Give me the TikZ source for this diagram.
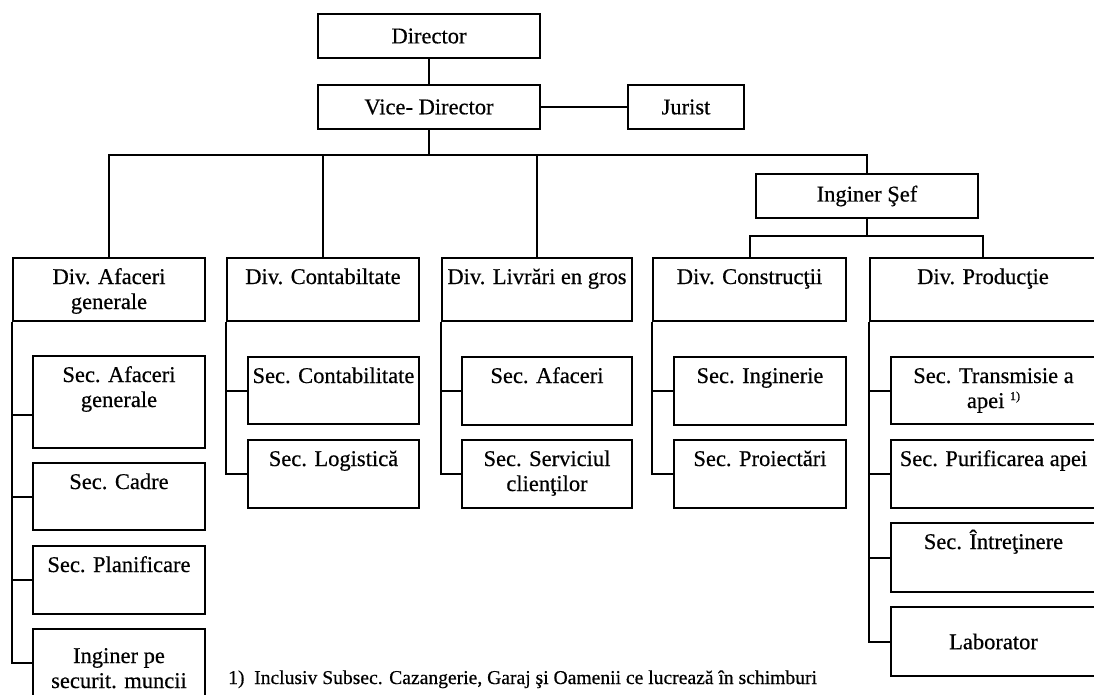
\documentclass[tikz,border=0pt]{standalone}
\usepackage{fontspec}
\setmainfont{Liberation Serif}[FakeBold=0.5]
% two centred lines whose baseline is the first line's
\newcommand\twol[2]{\begin{tabular}[t]{@{}c@{}}#1\\#2\end{tabular}}
% framed unit: name, left, top, width, height
\newcommand\orgbox[5]{\node[box, minimum width=#4pt, minimum height=#5pt] (#1) at (#2,#3) {};}
% caption placed near the top of a unit
\newcommand\toplabel[3][27]{\node[lbl, anchor=base] (#2-t) at ([yshift=-#1pt]#2.north) {#3};}
\begin{document}
\begin{tikzpicture}[x=1pt,y=-1pt,
  box/.style={draw, line width=2pt, rectangle, inner sep=0pt, anchor=north west},
  lbl/.style={inner sep=0pt, font=\fontsize{22.5}{25}\selectfont},
  fn/.style={inner sep=0pt, font=\fontsize{19.6}{23}\selectfont},
  wire/.style={line width=2pt}]
\useasboundingbox (0,0) rectangle (1094,694);
\clip (0,0) rectangle (1094,694);

% management
\node[box, lbl, minimum width=222pt, minimum height=44pt] (dir) at (317,13) {Director};
\node[box, lbl, minimum width=222pt, minimum height=44pt] (vice) at (317,84) {Vice- Director};
\node[box, lbl, minimum width=116pt, minimum height=44pt] (jur) at (627,84) {Jurist};
\node[box, lbl, minimum width=222pt, minimum height=44pt] (ing) at (755,173) {Inginer Şef};

% divisions
\orgbox{divA}{12}{257}{192}{63}
\orgbox{divC}{226}{257}{192}{63}
\orgbox{divL}{441}{257}{190}{63}
\orgbox{divK}{652}{257}{193}{63}
\orgbox{divP}{869}{257}{226}{63}
\toplabel{divA}{\twol{Div. Afaceri}{generale}}
\toplabel{divC}{Div. Contabiltate}
\toplabel{divL}{Div. Livrări en gros}
\toplabel{divK}{Div. Construcţii}
\toplabel{divP}{Div. Producţie}

% sections
\orgbox{sA1}{32}{355}{172}{92}
\orgbox{sA2}{32}{462}{172}{67}
\orgbox{sA3}{32}{545}{172}{68}
\orgbox{sA4}{32}{628}{172}{68}
\toplabel{sA1}{\twol{Sec. Afaceri}{generale}}
\toplabel{sA2}{Sec. Cadre}
\toplabel{sA3}{Sec. Planificare}
\toplabel[35]{sA4}{\twol{Inginer pe}{securit. muncii}}

\orgbox{sC1}{247}{356}{171}{67}
\orgbox{sC2}{247}{439}{171}{68}
\toplabel{sC1}{Sec. Contabilitate}
\toplabel{sC2}{Sec. Logistică}

\orgbox{sL1}{461}{356}{170}{68}
\orgbox{sL2}{461}{439}{170}{68}
\toplabel{sL1}{Sec. Afaceri}
\toplabel{sL2}{\twol{Sec. Serviciul}{clienţilor}}

\orgbox{sK1}{673}{356}{172}{68}
\orgbox{sK2}{673}{439}{172}{68}
\toplabel{sK1}{Sec. Inginerie}
\toplabel{sK2}{Sec. Proiectări}

\orgbox{sP1}{890}{356}{205}{67}
\orgbox{sP2}{890}{439}{205}{68}
\orgbox{sP3}{890}{522}{205}{69}
\orgbox{sP4}{890}{606}{205}{69}
\toplabel{sP1}{\twol{Sec. Transmisie a}{apei \raisebox{8pt}{\fontsize{12}{12}\selectfont 1)}}}
\toplabel{sP2}{Sec. Purificarea apei}
\toplabel{sP3}{Sec. Întreţinere}
\node[lbl] (sP4-t) at (sP4.center) {Laborator};

% top of the hierarchy
\coordinate (bus) at (0,155);
\coordinate (bus2) at (0,236);
\draw[wire] (dir.south) -- (vice.north);
\draw[wire] (vice.east) -- (jur.west);
\draw[wire] (vice.south) -- (vice.south |- bus);
\draw[wire] (divA.north) |- (bus -| ing.north) -- (ing.north);
\draw[wire] (divC.north) -- (divC.north |- bus);
\draw[wire] (divL.north) -- (divL.north |- bus);
\draw[wire] (ing.south) -- (ing.south |- bus2);
\draw[wire] (divK.north) |- (bus2 -| divP.north) -- (divP.north);

% section spines
\draw[wire] (divA.south west) |- (sA4.west);
\draw[wire] ([yshift=-13pt]sA1.west) -- ++(-20,0);
\draw[wire] (sA2.west) -- (sA2.west -| divA.west);
\draw[wire] (sA3.west) -- (sA3.west -| divA.west);

\draw[wire] (divC.south west) |- (sC2.west);
\draw[wire] (sC1.west) -- (sC1.west -| divC.west);

\draw[wire] (divL.south west) |- (sL2.west);
\draw[wire] (sL1.west) -- (sL1.west -| divL.west);

\draw[wire] (divK.south west) |- (sK2.west);
\draw[wire] (sK1.west) -- (sK1.west -| divK.west);

\draw[wire] (divP.south west) |- (sP4.west);
\draw[wire] (sP1.west) -- (sP1.west -| divP.west);
\draw[wire] (sP2.west) -- (sP2.west -| divP.west);
\draw[wire] (sP3.west) -- (sP3.west -| divP.west);

% footnote
\node[fn, anchor=base west] (fnnum) at (228,684) {1)};
\node[fn, anchor=base west] (fntext) at (254,684) {Inclusiv Subsec. Cazangerie, Garaj şi Oamenii ce lucrează în schimburi};
\end{tikzpicture}
\end{document}
